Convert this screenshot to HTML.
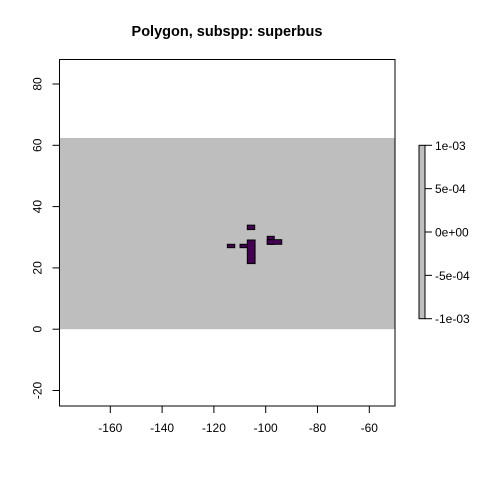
<!DOCTYPE html>
<html><head><meta charset="utf-8"><style>
body{margin:0;background:#fff;}
svg{display:block;font-family:"Liberation Sans",Arial,sans-serif;}
</style></head><body>
<svg id="c" width="480" height="480" viewBox="0 0 480 480">
<text x="227" y="36" text-anchor="middle" font-size="14.5" font-weight="bold">Polygon, subspp: superbus</text>
<g id="plot"></g>
</svg>
<script>
const xTicks=[-160,-140,-120,-100,-80,-60];
const yTicks=[-20,0,20,40,60,80];
const bgExtent=[0,62.4];
const cellX=[-107.1,-114.8,-109.9,-107.1,-99.4,-99.4];
const cellY=[32.5,26.6,26.6,21.4,27.7,27.7];
const cellW=[2.85,2.85,2.85,3.0,2.7,5.6];
const cellH=[1.45,1.1,1.1,7.7,2.6,1.5];
const legendTicks=["1e-03","5e-04","0e+00","-5e-04","-1e-03"];
const NS="http://www.w3.org/2000/svg";
const g=document.getElementById('plot');
const L=59.5,R=395,T=59.5,B=406;
const sx=v=>110.3+(v+160)*2.59;
const sy=v=>145.3-(v-60)*3.065;
function mk(t,a,p){const e=document.createElementNS(NS,t);for(const k in a)e.setAttribute(k,a[k]);(p||g).appendChild(e);return e;}
let bg=mk('rect',{x:L,y:sy(bgExtent[1]),width:R-L,height:sy(bgExtent[0])-sy(bgExtent[1]),fill:'#bebebe'});


for(let i=0;i<cellX.length;i++){
 const r=mk('rect',{x:sx(cellX[i]),y:sy(cellY[i]+cellH[i]),width:cellW[i]*2.59,height:cellH[i]*3.065,fill:'#440154',stroke:'#000','stroke-width':1});
 
 
}
const box=mk('rect',{x:L,y:T,width:R-L,height:B-T,fill:'none',stroke:'#000','stroke-width':1});


xTicks.forEach(v=>{const x=sx(v);
 const l=mk('line',{x1:x,x2:x,y1:B,y2:B+7,stroke:'#000'});
 
 
 const t=mk('text',{x:x,y:B+26,'text-anchor':'middle','font-size':12});t.textContent=v;
 
 
});
yTicks.forEach(v=>{const y=sy(v);
 const l=mk('line',{x1:L,x2:L-7,y1:y,y2:y,stroke:'#000'});
 
 
 const t=mk('text',{x:0,y:0,'text-anchor':'middle','font-size':12,transform:`translate(${L-18},${y}) rotate(-90)`});t.textContent=v;
 
 
});
const lb=mk('rect',{x:419,y:145.3,width:6,height:173.4,fill:'#bebebe',stroke:'#000','stroke-width':1});


legendTicks.forEach((s,i)=>{const y=145.3+i*173.4/(legendTicks.length-1);
 const l=mk('line',{x1:425,x2:432,y1:y,y2:y,stroke:'#000'});
 
 
 const t=mk('text',{x:435,y:y+4.5,'font-size':12});t.textContent=s;
 
 
});
</script>
</body></html>
